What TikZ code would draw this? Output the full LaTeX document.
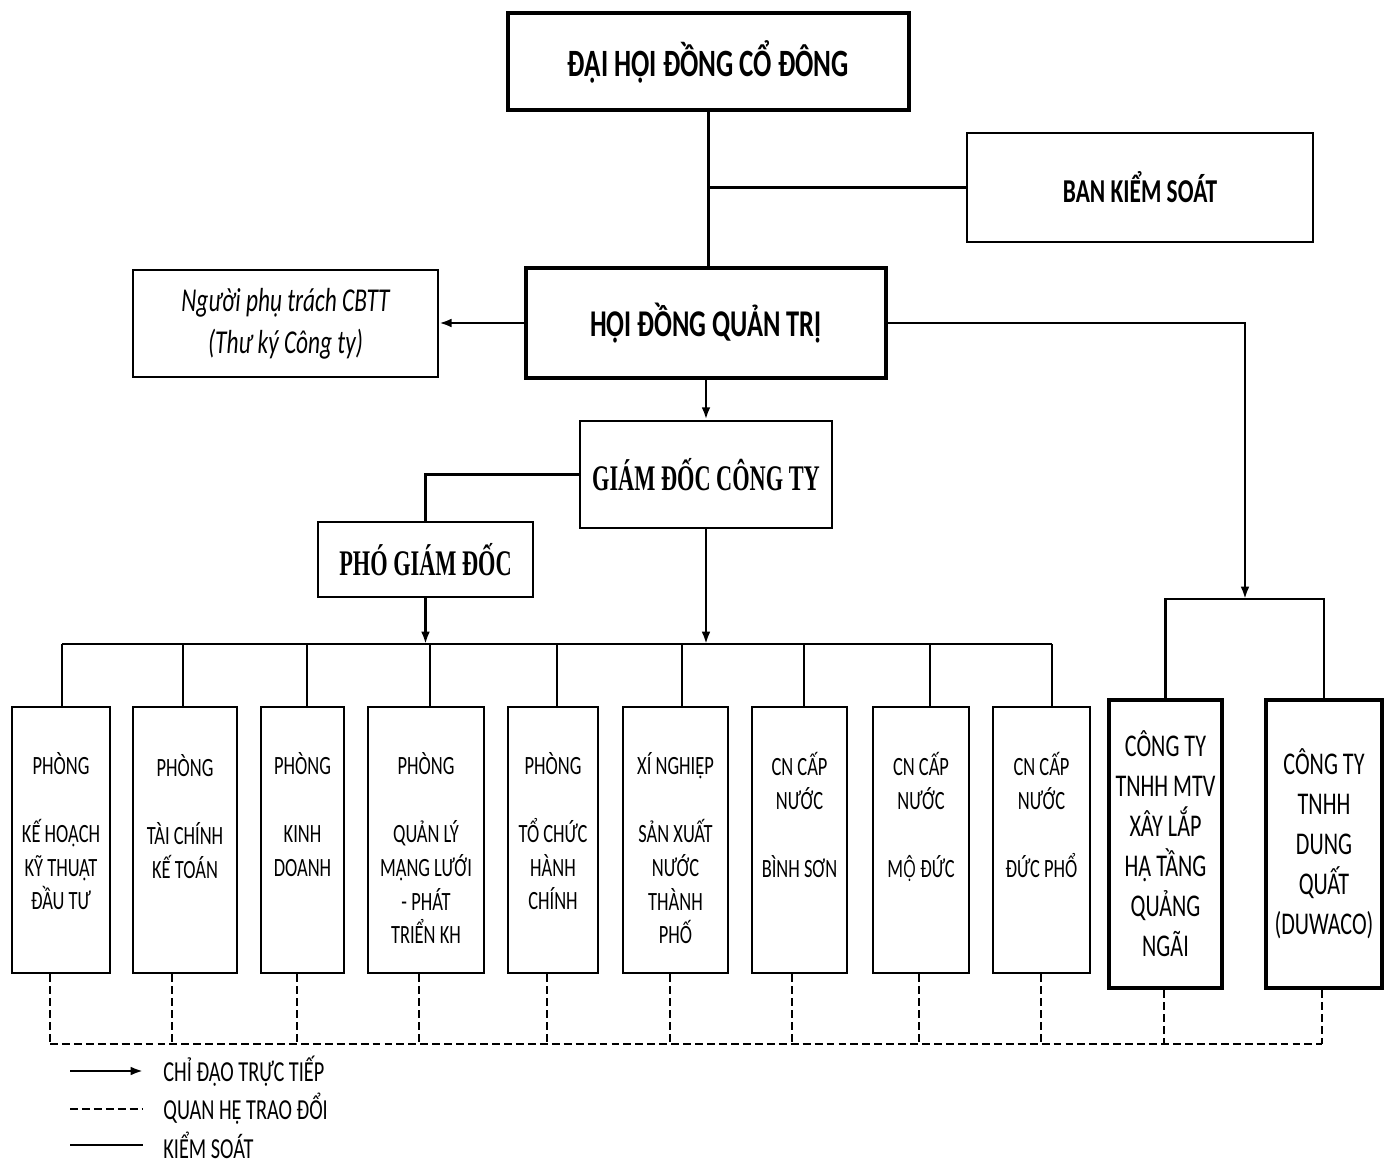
\documentclass[tikz,border=0pt]{standalone}
\usepackage{fontspec}
\setmainfont{Carlito}[FakeStretch=0.7]
\newfontfamily\tnrfont{Liberation Serif}[FakeStretch=0.62]
\newfontfamily\vnfont{Open Sans}[FakeStretch=0.7, Scale=0.9]
\usetikzlibrary{arrows.meta,positioning}
\tikzset{
  box/.style={rectangle, draw=black, line width=1.6pt, fill=white, inner sep=0pt, align=center},
  dept/.style={box, minimum height=5.32cm},
  firm/.style={box, line width=2.8pt, minimum height=5.76cm, font=\fontsize{18}{22.8}\selectfont},
  depttext/.style={anchor=north, inner sep=0pt, align=center, font=\fontsize{15}{19.3}\selectfont,
                   execute at begin node={\rule{0pt}{15pt}}},
  legend/.style={anchor=west, inner sep=0pt, font=\fontsize{16.5}{18}\selectfont},
  link/.style={line width=1.6pt},
  arrow/.style={link, -{Latex[length=7pt, width=5pt]}},
  talk/.style={line width=1.3pt, dash pattern=on 4.5pt off 2.3pt},
}

\begin{document}
\begin{tikzpicture}[x=0.02cm, y=-0.02cm]
\useasboundingbox (0,0) rectangle (1390,1166);

% Top level
\node[box, line width=2.4pt, minimum width=8.02cm, minimum height=1.94cm,
      font=\fontsize{22}{26}\selectfont\bfseries] (dhdcd) at (708.5,61.5) {ĐẠI HỘI ĐỒNG CỔ ĐÔNG};
\node[box, minimum width=6.92cm, minimum height=2.18cm,
      font=\fontsize{19}{22}\selectfont\bfseries] (bks) at (1140,187.5) {BAN KIỂM SOÁT};
\node[box, line width=1.4pt, minimum width=6.1cm, minimum height=2.14cm,
      font=\fontsize{19}{24}\selectfont\itshape] (cbtt) at (285.5,323.5) {Người phụ trách CBTT\\(Thư ký Công ty)};
\node[box, line width=2.2pt, minimum width=7.2cm, minimum height=2.2cm,
      font=\fontsize{21.5}{26}\selectfont\bfseries] (hdqt) at (706,323) {HỘI ĐỒNG QUẢN TRỊ};
\node[box, minimum width=5.04cm, minimum height=2.14cm,
      font=\fontsize{20.5}{24}\tnrfont\bfseries] (gd) at (706,474.5) {GIÁM ĐỐC CÔNG TY};
\node[box, minimum width=4.3cm, minimum height=1.5cm,
      font=\fontsize{20.5}{24}\tnrfont\bfseries] (pgd) at (425.5,559.5) {PHÓ GIÁM ĐỐC};

% Departments
\node[dept, minimum width=1.96cm] (p1) at (61,840) {};
\node[dept, minimum width=2.08cm] (p2) at (185,840) {};
\node[dept, minimum width=1.66cm] (p3) at (302.5,840) {};
\node[dept, minimum width=2.32cm] (p4) at (426,840) {};
\node[dept, minimum width=1.8cm] (p5) at (553,840) {};
\node[dept, minimum width=2.1cm] (p6) at (675.5,840) {};
\node[dept, minimum width=1.9cm] (p7) at (799.5,840) {};
\node[dept, minimum width=1.92cm] (p8) at (921,840) {};
\node[dept, minimum width=1.94cm] (p9) at (1041.5,840) {};

\node[depttext] (p1t) at (61,752) {PHÒNG\\[19.3pt]KẾ HOẠCH\\KỸ THUẬT\\ĐẦU TƯ};
\node[depttext] (p2t) at (185,754) {PHÒNG\\[19.3pt]TÀI CHÍNH\\KẾ TOÁN};
\node[depttext] (p3t) at (302.5,752) {PHÒNG\\[19.3pt]KINH\\DOANH};
\node[depttext] (p4t) at (426,752) {PHÒNG\\[19.3pt]QUẢN LÝ\\MẠNG LƯỚI\\- PHÁT\\TRIỂN KH};
\node[depttext] (p5t) at (553,752) {PHÒNG\\[19.3pt]TỔ CHỨC\\HÀNH\\CHÍNH};
\node[depttext] (p6t) at (675.5,752) {XÍ NGHIỆP\\[19.3pt]SẢN XUẤT\\NƯỚC\\THÀNH\\PHỐ};
\node[depttext] (p7t) at (799.5,752) {CN CẤP\\NƯỚC\\[19.3pt]BÌNH SƠN};
\node[depttext] (p8t) at (921,752) {CN CẤP\\NƯỚC\\[19.3pt]M{\vnfont Ộ} ĐỨC};
\node[depttext] (p9t) at (1041.5,752) {CN CẤP\\NƯỚC\\[19.3pt]ĐỨC PHỔ};

% Subsidiaries
\node[firm, minimum width=2.26cm] (c1) at (1165.5,844) {CÔNG TY\\TNHH MTV\\XÂY LẮP\\HẠ TẦNG\\QUẢNG\\NGÃI};
\node[firm, minimum width=2.32cm] (c2) at (1324,844) {CÔNG TY\\TNHH\\DUNG\\QUẤT\\(DUWACO)};

% Bus and bracket points
\coordinate (b1) at (62,644);   \coordinate (b2) at (183,644);
\coordinate (b3) at (307,644);  \coordinate (b4) at (430,644);
\coordinate (b5) at (557,644);  \coordinate (b6) at (682,644);
\coordinate (b7) at (804,644);  \coordinate (b8) at (930,644);
\coordinate (b9) at (1052,644);
\coordinate (cb) at (1245,599);

% Exchange line points
\coordinate (q1) at (50,1044);   \coordinate (q2) at (172,1044);
\coordinate (q3) at (297,1044);  \coordinate (q4) at (419,1044);
\coordinate (q5) at (547,1044);  \coordinate (q6) at (670,1044);
\coordinate (q7) at (792,1044);  \coordinate (q8) at (919,1044);
\coordinate (q9) at (1041,1044); \coordinate (q10) at (1164,1044);
\coordinate (q11) at (1322,1044);

% Control lines
\draw[link] (dhdcd.south) -- (dhdcd.south |- hdqt.north);
\draw[link] (bks.west) -- (bks.west -| dhdcd.south);
\draw[arrow] (hdqt.west) -- (hdqt.west -| cbtt.east);
\draw[arrow] (hdqt.south) -- (gd.north);
\draw[link] (gd.west) -| (pgd.north);
\draw[arrow] (pgd.south) -- (pgd.south |- b1);
\draw[arrow] (gd.south) -- (gd.south |- b1);
\draw[link] (b1) -- (b9);
\foreach \i in {1,...,9}
  \draw[link] (b\i) -- (b\i |- p\i.north);
\draw[arrow] (hdqt.east) -| (cb);
\draw[link] (c1.north) |- (cb) -| (c2.north);

% Exchange lines
\draw[talk] (q1) -- (q11);
\foreach \i in {1,...,9}
  \draw[talk] (q\i |- p\i.south) -- (q\i);
\draw[talk] (q10 |- c1.south) -- (q10);
\draw[talk] (q11 |- c2.south) -- (q11);

% Legend
\node[legend] (lg1) at (163,1071) {CHỈ ĐẠO TRỰC TIẾP};
\node[legend] (lg2) at (163,1109) {QUAN HỆ TRAO ĐỔI};
\node[legend] (lg3) at (163,1145) {KIỂM SOÁT};
\draw[arrow] (lg1.west) ++(-93,0) -- ++(73,0);
\draw[talk] (lg2.west) ++(-93,0) -- ++(73,0);
\draw[link] (lg3.west) ++(-93,0) -- ++(73,0);
\end{tikzpicture}
\end{document}
